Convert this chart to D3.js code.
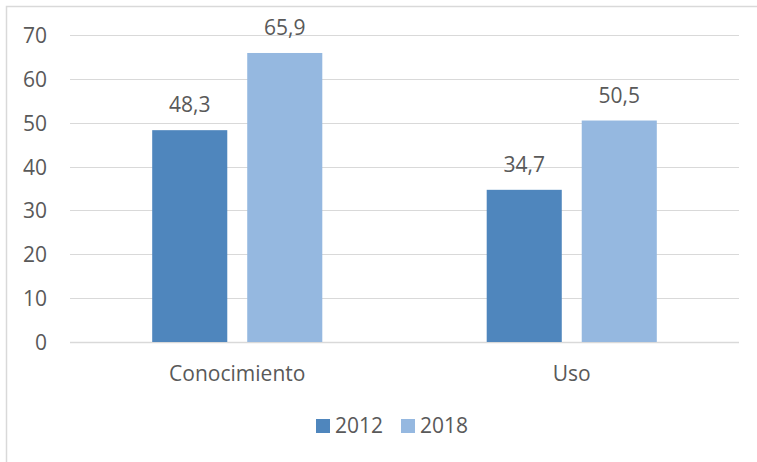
<!DOCTYPE html>
<html>
<head>
<meta charset="utf-8">
<script src="https://d3js.org/d3.v7.min.js"></script>
<style>
  body { margin: 0; background: #fff; }
  svg { display: block; font-family: "Open Sans", sans-serif; }
  text { fill: #595959; }
</style>
</head>
<body>
<svg width="757" height="462"></svg>
<script>
  let categories = ["Conocimiento", "Uso"]
  let years = ["2012", "2018"]
  let values2012 = [48.3, 34.7]
  let values2018 = [65.9, 50.5]
  let yTicks = [0, 10, 20, 30, 40, 50, 60, 70]
  let colors = ["#4f86bd", "#95b8e0"]

  let rows = categories.map(function (c, i) {
    return {cat: c, vals: [values2012[i], values2018[i]]}
  })

  let svg = d3.select("svg")
  svg.append("rect")
      .attr("x", 6.5).attr("y", 6.5)
      .attr("width", 760).attr("height", 470)
      .attr("fill", "none").attr("stroke", "#d9d9d9").attr("stroke-width", 1.5)

  let plotLeft = 70, plotRight = 739, plotTop = 35, plotBottom = 342
  let fs = 21

  let x = d3.scaleBand().domain(categories).range([plotLeft, plotRight])
  let xi = d3.scaleBand().domain(years).range([0, x.bandwidth()]).paddingInner(0.21).paddingOuter(0.865)
  let y = d3.scaleLinear().domain([0, 70]).range([plotBottom, plotTop])

  // grid
  svg.append("g").selectAll("line")
      .data(yTicks)
      .join("line")
      .attr("x1", plotLeft).attr("x2", plotRight)
      .attr("y1", d => Math.round(y(d)) + 0.5).attr("y2", d => Math.round(y(d)) + 0.5)
      .attr("stroke", "#d9d9d9").attr("stroke-width", d => d === 0 ? 1.5 : 1.2)

  svg.append("g").selectAll("text")
      .data(yTicks)
      .join("text")
      .attr("x", 47).attr("y", d => y(d) + 8)
      .attr("text-anchor", "end")
      .attr("font-size", fs)
      .text(d => d)

  let groups = svg.append("g").selectAll("g")
      .data(rows)
      .join("g")
      .attr("transform", d => `translate(${x(d.cat)},0)`)

  groups.selectAll("rect")
      .data(d => d.vals)
      .join("rect")
      .attr("x", (d, i) => xi(years[i]))
      .attr("width", xi.bandwidth())
      .attr("y", d => y(d))
      .attr("height", d => plotBottom - y(d))
      .attr("fill", (d, i) => colors[i])

  groups.selectAll("text.val")
      .data(d => d.vals)
      .join("text")
      .attr("class", "val")
      .attr("x", (d, i) => xi(years[i]) + xi.bandwidth() / 2)
      .attr("y", d => y(d) - 18)
      .attr("text-anchor", "middle")
      .attr("font-size", fs)
      .text(d => d3.format(".1f")(d).replace(".", ","))

  svg.append("g").selectAll("text")
      .data(categories)
      .join("text")
      .attr("x", d => x(d) + x.bandwidth() / 2)
      .attr("y", 381)
      .attr("text-anchor", "middle")
      .attr("font-size", fs)
      .text(d => d)

  // legend
  let legend = svg.append("g").selectAll("g")
      .data(years)
      .join("g")
      .attr("transform", (d, i) => `translate(${316 + i * 85},419)`)
  legend.append("rect").attr("width", 14).attr("height", 14).attr("fill", (d, i) => colors[i])
  legend.append("text").attr("x", 19).attr("y", 14).attr("font-size", fs).text(d => d)
</script>
</body>
</html>
